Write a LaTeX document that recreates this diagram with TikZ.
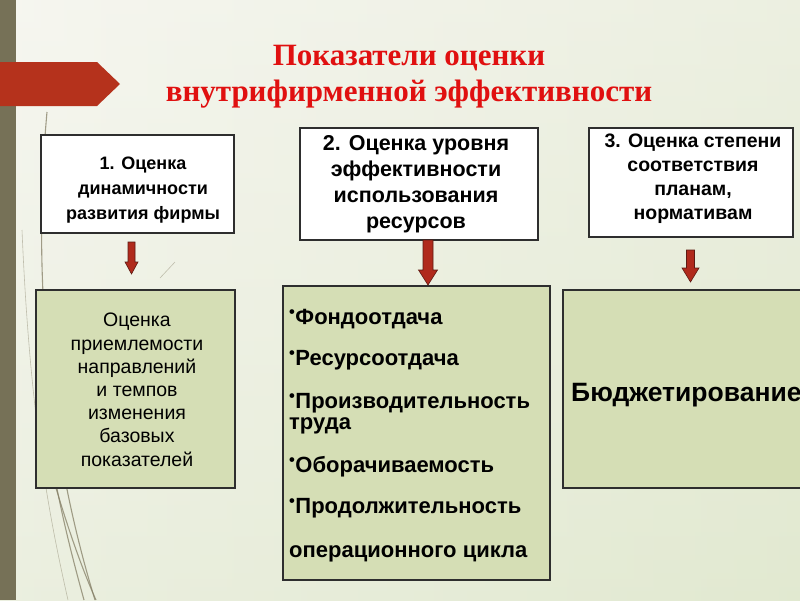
\documentclass[tikz,border=0pt]{standalone}
\usepackage{fontspec}
\setmainfont{Liberation Sans}
\newfontfamily\titlefont{Liberation Serif}
\definecolor{bgtop}{HTML}{F6F6F0}
\definecolor{bgbot}{HTML}{E0E8CF}
\definecolor{bgright}{HTML}{E3EAD2}
\definecolor{barcol}{HTML}{767157}
\definecolor{ribbon}{HTML}{B5321C}
\definecolor{titlered}{HTML}{E01010}
\definecolor{greenbox}{HTML}{D5DEB5}
\definecolor{borderc}{HTML}{2E2E2E}
\definecolor{arrfill}{HTML}{B02A1C}
\definecolor{arrline}{HTML}{5C1A12}
\definecolor{deco}{HTML}{857F66}
\tikzset{
  headbox/.style={draw=borderc, line width=1.1pt, fill=white, inner sep=0pt},
  greenpanel/.style={draw=borderc, line width=1.1pt, fill=greenbox, inner sep=0pt},
  boxtext/.style={inner sep=0pt, align=center},
  fatarrow/.style={draw=arrline, fill=arrfill, line width=0.6pt, line join=miter},
  decoline/.style={draw=deco, line width=1.1pt, opacity=0.75},
  faintline/.style={draw=deco, line width=0.6pt, opacity=0.45}
}
\newcommand{\bul}{\raisebox{0.3em}{\scalebox{0.75}{•}}\hspace{0.5pt}}
\begin{document}
\begin{tikzpicture}[x=1pt,y=-1pt]
\useasboundingbox (0,0) rectangle (800,600);
% background
\shade[top color=bgtop, bottom color=bgbot] (0,0) rectangle (800,600);
\shade[left color=bgtop, right color=bgright, opacity=0.5] (0,0) rectangle (800,600);
% decorative curves
\draw[decoline] (47,112) .. controls (30,300) and (55,470) .. (95,600);
\draw[decoline] (36,300) .. controls (40,430) and (62,520) .. (84,600);
\draw[faintline] (22,230) .. controls (30,420) and (50,520) .. (68,600);
\draw[decoline] (40,430) .. controls (58,500) and (78,560) .. (96,600);
\draw[faintline] (103,233) -- (110,215);
\draw[faintline] (160,278) -- (175,262);
\draw[faintline] (225,232) -- (232,220);
% left bar
\fill[barcol] (0,0) rectangle (16,600);
% ribbon
\fill[ribbon] (0,62) -- (97,62) -- (120,84) -- (97,106) -- (0,106) -- cycle;
% title
\node[text=titlered, font=\titlefont\bfseries\fontsize{31}{36}\selectfont, align=center, anchor=base, inner sep=0pt] (title) at (409,101)
  {Показатели оценки\\внутрифирменной эффективности};
% header boxes
\node[headbox, minimum width=193pt, minimum height=98pt] (h1) at (137.5,184) {};
\node[boxtext, font=\bfseries\fontsize{18}{25}\selectfont, anchor=base] (h1t) at (143,219)
  {1. Оценка\\динамичности\\развития фирмы};
\node[headbox, minimum width=238pt, minimum height=112pt] (h2) at (419,184) {};
\node[boxtext, font=\bfseries\fontsize{21.5}{26}\selectfont, anchor=base] (h2t) at (416,228)
  {2. Оценка уровня\\эффективности\\использования\\ресурсов};
\node[headbox, minimum width=204pt, minimum height=109pt] (h3) at (691,182.5) {};
\node[boxtext, font=\bfseries\fontsize{19.5}{23.7}\selectfont, anchor=base] (h3t) at (693,219)
  {3. Оценка степени\\соответствия\\планам,\\нормативам};
% green panels
\node[greenpanel, minimum width=199pt, minimum height=198pt] (g1) at (135.5,389) {};
\node[boxtext, font=\fontsize{19.5}{23.2}\selectfont, anchor=base] (g1t) at (137,466)
  {Оценка\\приемлемости\\направлений\\и темпов\hspace*{10pt}\\изменения\\базовых\\показателей};
\node[greenpanel, minimum width=267pt, minimum height=294pt] (g2) at (416.5,433) {};
\node[anchor=base west, inner sep=0pt, align=left, font=\bfseries\fontsize{22}{21}\selectfont] (g2t) at (289,557)
  {\bul Фондоотдача\\[20pt]
   \bul Ресурсоотдача\\[22pt]
   \bul Производительность\\
   труда\\[22pt]
   \bul Оборачиваемость\\[20pt]
   \bul Продолжительность\\[23pt]
   операционного цикла};
\node[greenpanel, minimum width=244pt, minimum height=198pt] (g3) at (685,389) {};
\node[anchor=base west, inner sep=0pt, font=\bfseries\fontsize{26.5}{30}\selectfont] (g3t) at (571,401) {Бюджетирование};
% arrows
\coordinate (a1) at (131.5,242);
\draw[fatarrow] ([xshift=-3.5pt]a1) -- ++(0,20) -- ++(-3,0) -- ++(6.5,12) -- ++(6.5,-12) -- ++(-3,0) -- ++(0,-20) -- cycle;
\coordinate (a2) at (428,240);
\draw[fatarrow] ([xshift=-5pt]a2) -- ++(0,30) -- ++(-4.5,0) -- ++(9.5,15) -- ++(9.5,-15) -- ++(-4.5,0) -- ++(0,-30) -- cycle;
\coordinate (a3) at (690.5,250);
\draw[fatarrow] ([xshift=-4pt]a3) -- ++(0,18) -- ++(-4.5,0) -- ++(8.5,14) -- ++(8.5,-14) -- ++(-4.5,0) -- ++(0,-18) -- cycle;
\end{tikzpicture}
\end{document}
